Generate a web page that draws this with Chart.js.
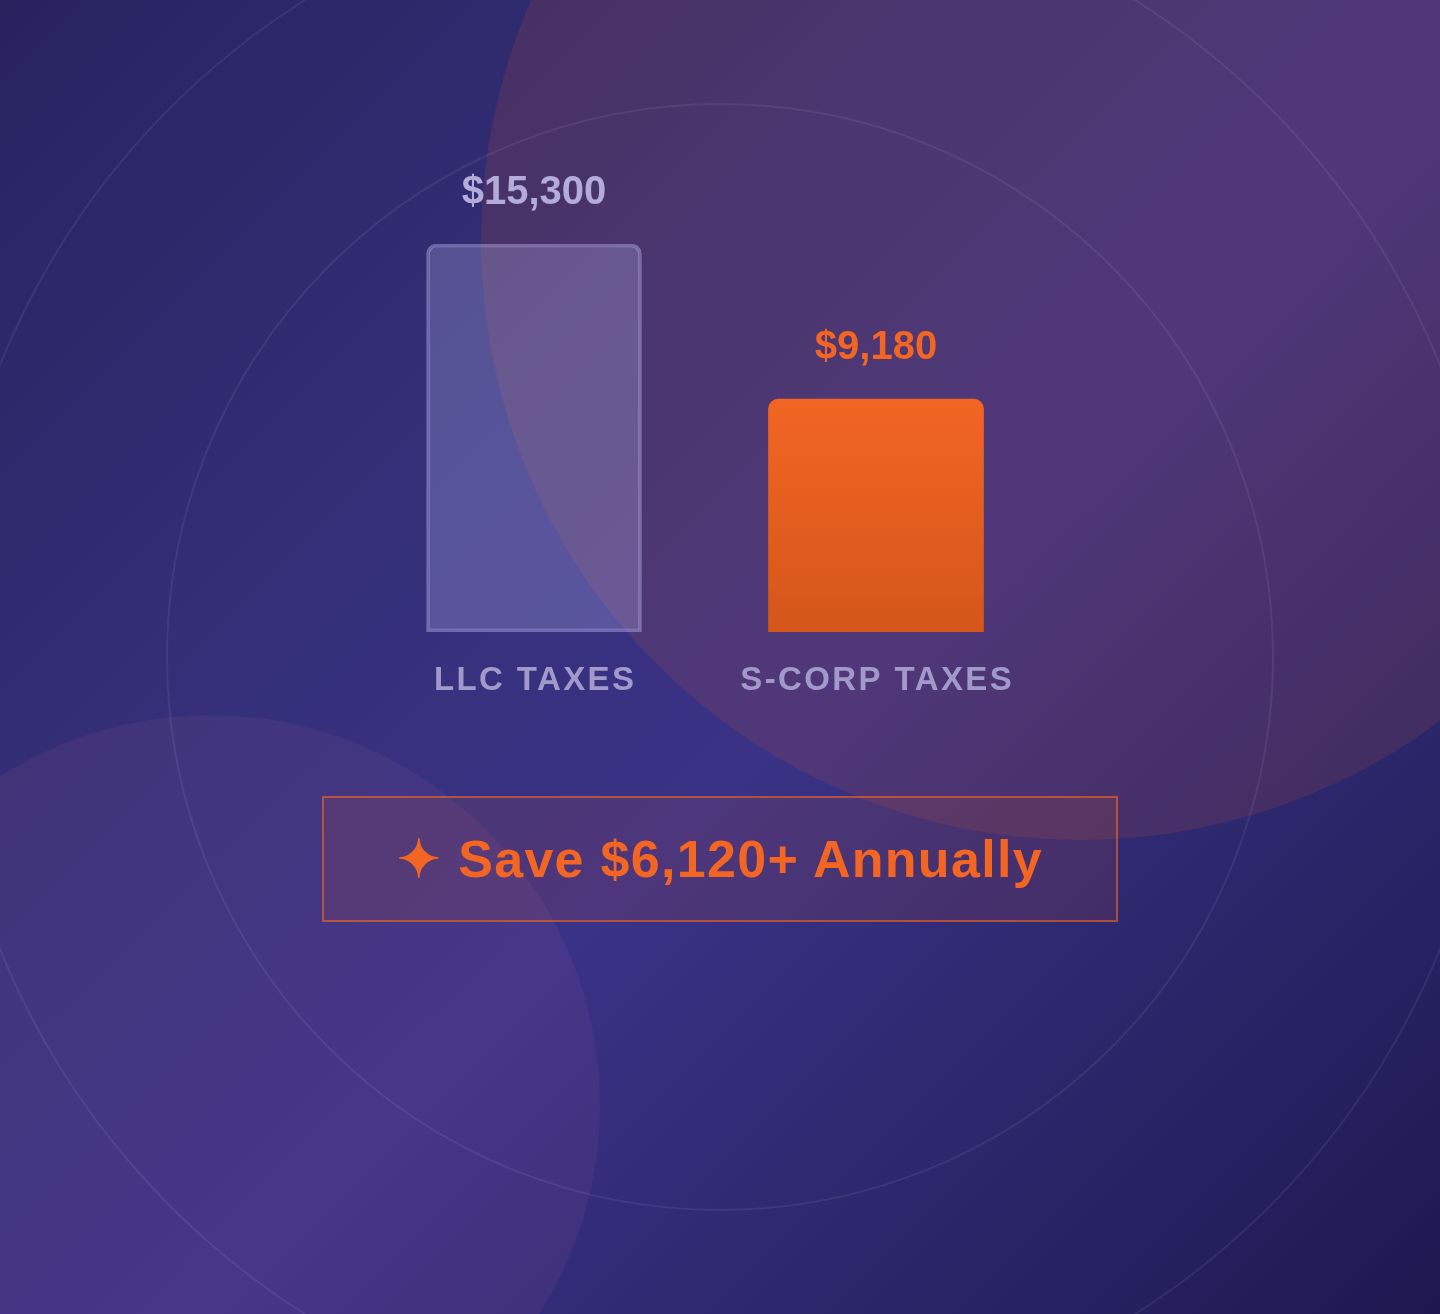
<!DOCTYPE html>
<html>
<head>
<meta charset="utf-8">
<script src="https://cdn.jsdelivr.net/npm/chart.js@4.4.1/dist/chart.umd.min.js"></script>
<style>
  html, body { margin: 0; padding: 0; }
  body {
    width: 1440px; height: 1314px; overflow: hidden; position: relative;
    background: linear-gradient(135deg, #28235f 0%, #35307a 35%, #3a3286 55%, #2a2568 80%, #1e1850 100%);
    font-family: "Liberation Sans", Arial, sans-serif;
  }
  .blob { position: absolute; border-radius: 50%; }
  .blob.orange { left: 481px; top: -360px; width: 1200px; height: 1200px; background: rgba(242, 101, 34, 0.12); }
  .blob.purple { left: -180px; top: 715px; width: 780px; height: 780px; background: rgba(220, 110, 160, 0.08); }
  .ring { position: absolute; border-radius: 50%; border: 2px solid rgba(255, 255, 255, 0.07); box-sizing: border-box; }
  .ring.inner { left: 166px; top: 103px; width: 1108px; height: 1108px; }
  .ring.outer { left: -58px; top: -121px; width: 1556px; height: 1556px; }
  #chart { position: absolute; left: 0; top: 0; }
  .savings {
    position: absolute; left: 322px; top: 796px; width: 796px; height: 126px; box-sizing: border-box;
    border: 2px solid rgba(242, 101, 34, 0.6); background: rgba(242, 101, 34, 0.1);
    color: #f26522; font-weight: bold; font-size: 52px; text-align: center; line-height: 122px;
    letter-spacing: 1.3px;
  }
</style>
</head>
<body>
<div class="blob orange"></div>
<div class="blob purple"></div>
<div class="ring inner"></div>
<div class="ring outer"></div>
<canvas id="chart" width="1440" height="1314"></canvas>
<div class="savings">✦ Save $6,120+ Annually</div>

<script>
// ==================== DATA ====================

const categories = ['LLC TAXES', 'S-CORP TAXES'];
const taxValues = [15300, 9180];
const valueLabels = ['$15,300', '$9,180'];
const valueColors = ['#b3acd8', '#f26522'];

// ==================== PLUGINS ====================

// value above each bar, category name below it
const barLabels = {
    id: 'barLabels',
    afterDatasetsDraw(chart) {
        const ctx = chart.ctx;
        const meta = chart.getDatasetMeta(0);
        const xScale = chart.scales.x;
        const bottom = chart.chartArea.bottom;

        ctx.save();
        ctx.textAlign = 'center';
        ctx.textBaseline = 'alphabetic';

        meta.data.forEach((bar, i) => {
            ctx.font = 'bold 40px "Liberation Sans", Arial, sans-serif';
            ctx.fillStyle = valueColors[i];
            ctx.letterSpacing = '0px';
            ctx.fillText(valueLabels[i], bar.x, bar.y - 40);

            ctx.font = 'bold 33px "Liberation Sans", Arial, sans-serif';
            ctx.fillStyle = '#a099c9';
            ctx.letterSpacing = '2.4px';
            ctx.fillText(categories[i], xScale.getPixelForValue(i) + 1.2, bottom + 58);
        });
        ctx.restore();
    }
};

// ==================== CHART ====================

function sCorpGradient(context) {
    const chart = context.chart;
    const area = chart.chartArea;
    if (!area || !chart.scales.y) return '#f26522';
    const top = chart.scales.y.getPixelForValue(taxValues[context.dataIndex]);
    if (!isFinite(top)) return '#f26522';
    const g = chart.ctx.createLinearGradient(0, top, 0, area.bottom);
    g.addColorStop(0, '#f26523');
    g.addColorStop(1, '#d4561a');
    return g;
}

const chart = new Chart(document.getElementById('chart'), {
    type: 'bar',
    data: {
        labels: categories,
        datasets: [{
            data: taxValues,
            backgroundColor: (context) => context.dataIndex === 0 ? 'rgba(200, 200, 255, 0.24)' : sCorpGradient(context),
            borderColor: ['rgba(205, 200, 255, 0.38)', 'rgba(0,0,0,0)'],
            borderWidth: [3, 0],
            borderRadius: { topLeft: 10, topRight: 10, bottomLeft: 0, bottomRight: 0 },
            borderSkipped: false,
            barThickness: 215
        }]
    },
    options: {
        responsive: false,
        animation: false,
        layout: {
            padding: { left: 363, right: 393, top: 244, bottom: 682 }
        },
        scales: {
            x: { display: false },
            y: { display: false, min: 0, max: 15300 }
        },
        plugins: {
            legend: { display: false },
            tooltip: { enabled: false }
        }
    },
    plugins: [barLabels]
});
</script>
</body>
</html>
